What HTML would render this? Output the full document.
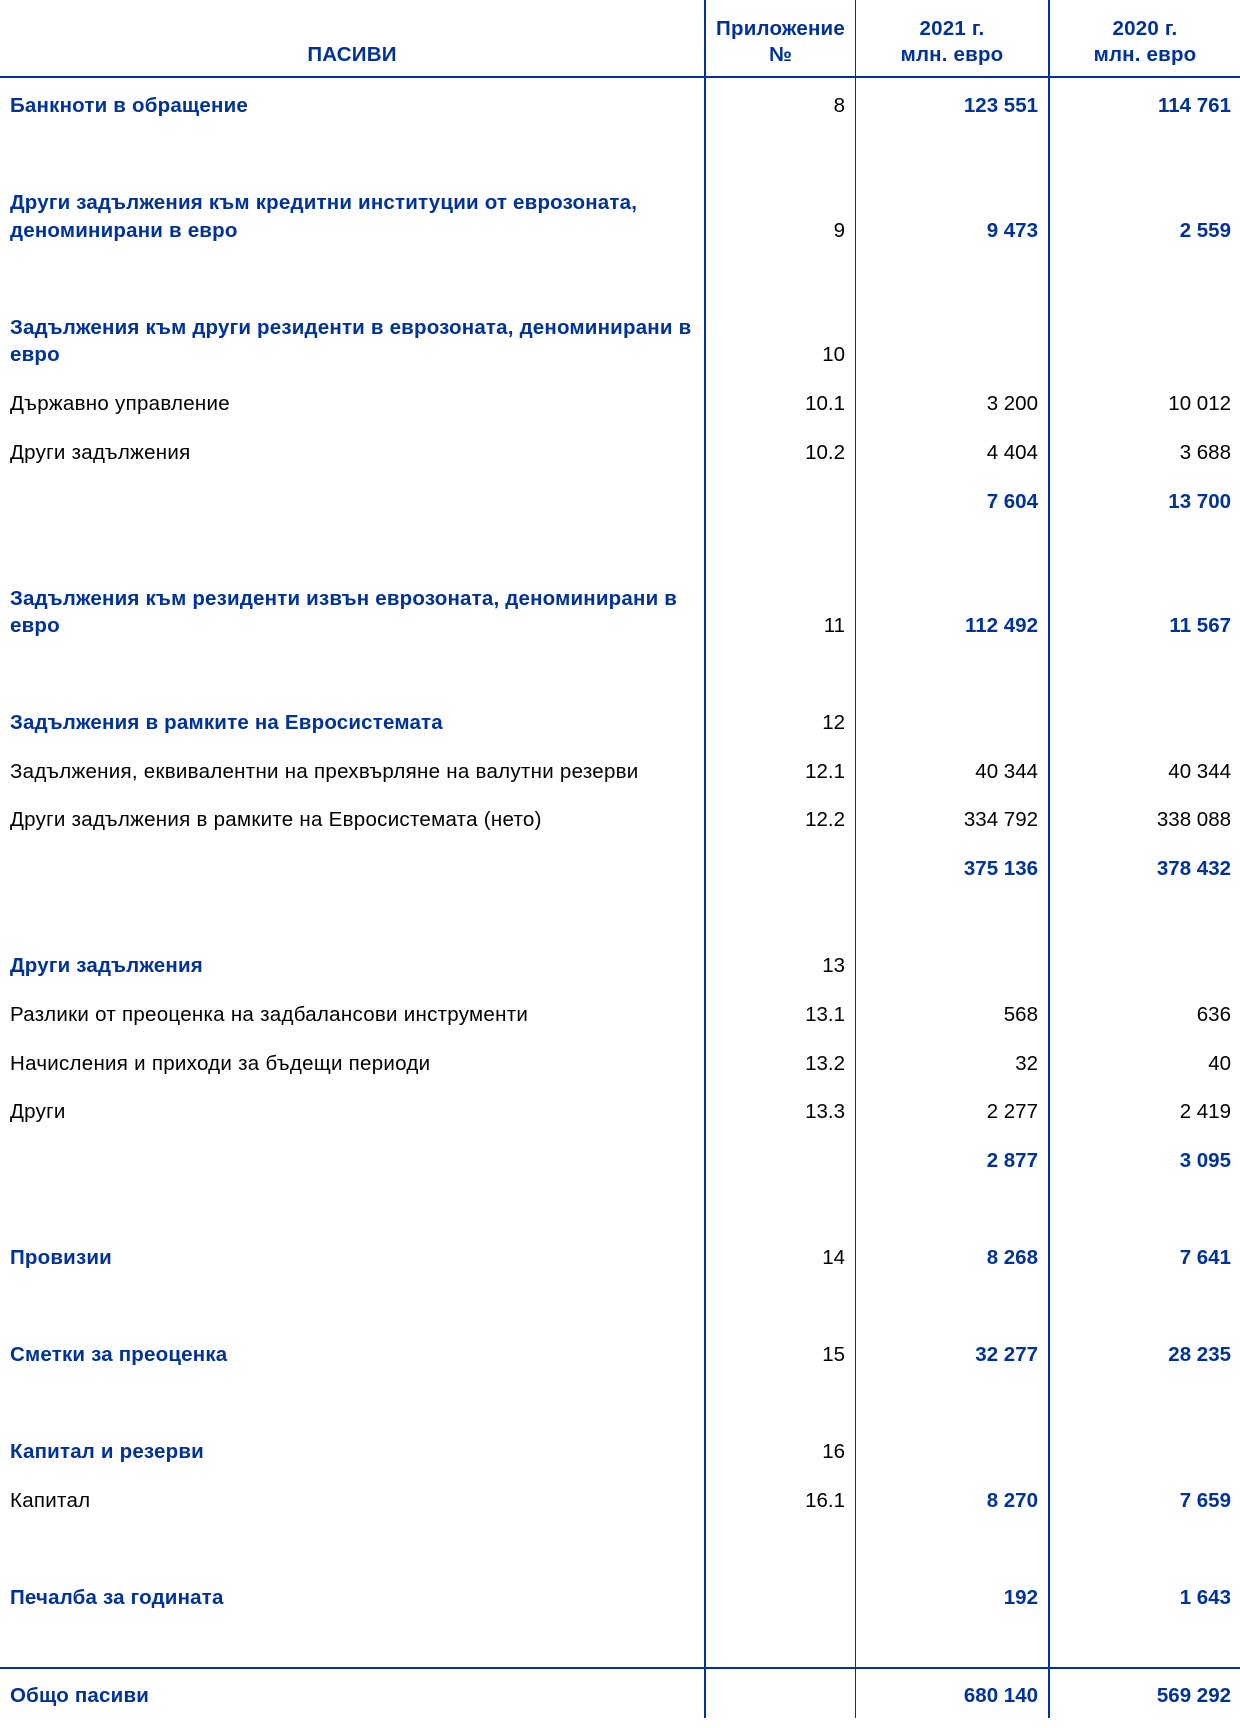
<!DOCTYPE html>
<html>
<head>
<meta charset="utf-8">
<style>
  html,body{margin:0;padding:0;background:#fff;}
  body{width:1240px;height:1728px;position:relative;overflow:hidden;
       font-family:"Liberation Sans",Arial,"Noto Sans CJK SC",sans-serif;}
  .t{position:absolute;white-space:nowrap;line-height:28px;font-size:20.5px;color:#000;}
  .b{font-weight:bold;color:#003299;}
  .c2{right:395px;text-align:right;}
  .c3{right:202px;text-align:right;}
  .c4{right:9px;text-align:right;}
  .l{left:10px;letter-spacing:0.28px;}
  .l.b{letter-spacing:0.2px;}
  .ln{position:absolute;background:#003299;}
  .hc{text-align:center;letter-spacing:0.2px;}
</style>
</head>
<body>
<!-- lines -->
<div class="ln" style="left:0;top:76px;width:1240px;height:2px;"></div>
<div class="ln" style="left:0;top:1667px;width:1240px;height:2px;"></div>
<div class="ln" style="left:704px;top:0;width:2px;height:1718px;"></div>
<div class="ln" style="left:855px;top:0;width:1px;height:1718px;"></div>
<div class="ln" style="left:1048px;top:0;width:2px;height:1718px;"></div>

<!-- header -->
<div class="t b hc" style="left:0;width:704px;top:41px;">ПАСИВИ</div>
<div class="t b hc" style="left:706px;width:149px;top:15px;">Приложение</div>
<div class="t b hc" style="left:706px;width:149px;top:41px;">№</div>
<div class="t b hc" style="left:856px;width:192px;top:15px;">2021 г.</div>
<div class="t b hc" style="left:856px;width:192px;top:41px;">млн. евро</div>
<div class="t b hc" style="left:1050px;width:190px;top:15px;">2020 г.</div>
<div class="t b hc" style="left:1050px;width:190px;top:41px;">млн. евро</div>

<!-- row 1 -->
<div class="t b l" style="top:92px;">Банкноти в обращение</div>
<div class="t c2" style="top:92px;">8</div>
<div class="t b c3" style="top:92px;">123 551</div>
<div class="t b c4" style="top:92px;">114 761</div>

<!-- row 2 -->
<div class="t b l" style="top:189px;">Други задължения към кредитни институции от еврозоната,</div>
<div class="t b l" style="top:217px;">деноминирани в евро</div>
<div class="t c2" style="top:217px;">9</div>
<div class="t b c3" style="top:217px;">9 473</div>
<div class="t b c4" style="top:217px;">2 559</div>

<!-- row 3 -->
<div class="t b l" style="top:314px;">Задължения към други резиденти в еврозоната, деноминирани в</div>
<div class="t b l" style="top:341px;">евро</div>
<div class="t c2" style="top:341px;">10</div>

<div class="t l" style="top:390px;">Държавно управление</div>
<div class="t c2" style="top:390px;">10.1</div>
<div class="t c3" style="top:390px;">3 200</div>
<div class="t c4" style="top:390px;">10 012</div>

<div class="t l" style="top:439px;">Други задължения</div>
<div class="t c2" style="top:439px;">10.2</div>
<div class="t c3" style="top:439px;">4 404</div>
<div class="t c4" style="top:439px;">3 688</div>

<div class="t b c3" style="top:488px;">7 604</div>
<div class="t b c4" style="top:488px;">13 700</div>

<!-- row 4 -->
<div class="t b l" style="top:585px;">Задължения към резиденти извън еврозоната, деноминирани в</div>
<div class="t b l" style="top:612px;">евро</div>
<div class="t c2" style="top:612px;">11</div>
<div class="t b c3" style="top:612px;">112 492</div>
<div class="t b c4" style="top:612px;">11 567</div>

<!-- row 5 -->
<div class="t b l" style="top:709px;">Задължения в рамките на Евросистемата</div>
<div class="t c2" style="top:709px;">12</div>

<div class="t l" style="top:758px;">Задължения, еквивалентни на прехвърляне на валутни резерви</div>
<div class="t c2" style="top:758px;">12.1</div>
<div class="t c3" style="top:758px;">40 344</div>
<div class="t c4" style="top:758px;">40 344</div>

<div class="t l" style="top:806px;">Други задължения в рамките на Евросистемата (нето)</div>
<div class="t c2" style="top:806px;">12.2</div>
<div class="t c3" style="top:806px;">334 792</div>
<div class="t c4" style="top:806px;">338 088</div>

<div class="t b c3" style="top:855px;">375 136</div>
<div class="t b c4" style="top:855px;">378 432</div>

<!-- row 6 -->
<div class="t b l" style="top:952px;">Други задължения</div>
<div class="t c2" style="top:952px;">13</div>

<div class="t l" style="top:1001px;">Разлики от преоценка на задбалансови инструменти</div>
<div class="t c2" style="top:1001px;">13.1</div>
<div class="t c3" style="top:1001px;">568</div>
<div class="t c4" style="top:1001px;">636</div>

<div class="t l" style="top:1050px;">Начисления и приходи за бъдещи периоди</div>
<div class="t c2" style="top:1050px;">13.2</div>
<div class="t c3" style="top:1050px;">32</div>
<div class="t c4" style="top:1050px;">40</div>

<div class="t l" style="top:1098px;">Други</div>
<div class="t c2" style="top:1098px;">13.3</div>
<div class="t c3" style="top:1098px;">2 277</div>
<div class="t c4" style="top:1098px;">2 419</div>

<div class="t b c3" style="top:1147px;">2 877</div>
<div class="t b c4" style="top:1147px;">3 095</div>

<!-- row 7 -->
<div class="t b l" style="top:1244px;">Провизии</div>
<div class="t c2" style="top:1244px;">14</div>
<div class="t b c3" style="top:1244px;">8 268</div>
<div class="t b c4" style="top:1244px;">7 641</div>

<!-- row 8 -->
<div class="t b l" style="top:1341px;">Сметки за преоценка</div>
<div class="t c2" style="top:1341px;">15</div>
<div class="t b c3" style="top:1341px;">32 277</div>
<div class="t b c4" style="top:1341px;">28 235</div>

<!-- row 9 -->
<div class="t b l" style="top:1438px;">Капитал и резерви</div>
<div class="t c2" style="top:1438px;">16</div>

<div class="t l" style="top:1487px;">Капитал</div>
<div class="t c2" style="top:1487px;">16.1</div>
<div class="t b c3" style="top:1487px;">8 270</div>
<div class="t b c4" style="top:1487px;">7 659</div>

<!-- row 10 -->
<div class="t b l" style="top:1584px;">Печалба за годината</div>
<div class="t b c3" style="top:1584px;">192</div>
<div class="t b c4" style="top:1584px;">1 643</div>

<!-- total -->
<div class="t b l" style="top:1682px;">Общо пасиви</div>
<div class="t b c3" style="top:1682px;">680 140</div>
<div class="t b c4" style="top:1682px;">569 292</div>
</body>
</html>
